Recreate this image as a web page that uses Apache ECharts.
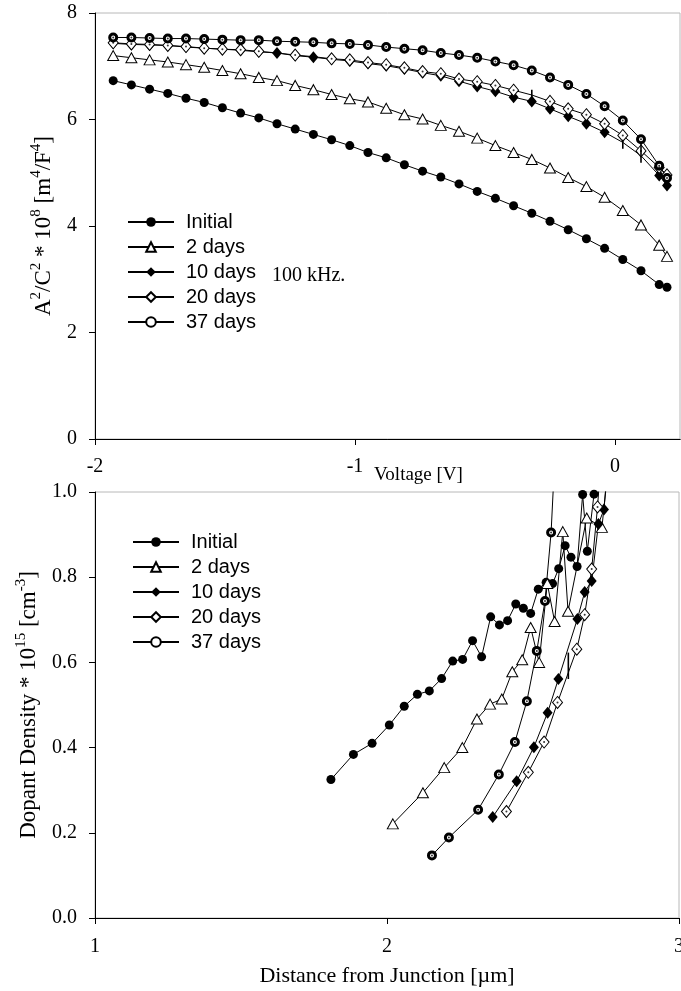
<!DOCTYPE html>
<html>
<head>
<meta charset="utf-8">
<script src="https://cdn.jsdelivr.net/npm/echarts@6/dist/echarts.min.js"></script>
<style>
  html, body { margin: 0; padding: 0; background: #fff; }
  #main { width: 681px; height: 991px; }
</style>
</head>
<body>
<div id="main"></div>
<script>
// top panel: A^2/C^2 vs voltage
var voltage = [-1.93,-1.86,-1.79,-1.72,-1.65,-1.58,-1.51,-1.44,-1.37,-1.30,-1.23,-1.16,-1.09,-1.02,-0.95,-0.88,
               -0.81,-0.74,-0.67,-0.60,-0.53,-0.46,-0.39,-0.32,-0.25,-0.18,-0.11,-0.04,0.03,0.10,0.17,0.20];
var voltageTicks = [-2, -1, 0];
var initialTop = [6.73,6.65,6.57,6.49,6.40,6.32,6.22,6.12,6.03,5.92,5.82,5.72,5.62,5.51,5.38,5.28,
                  5.15,5.03,4.92,4.79,4.65,4.52,4.38,4.24,4.09,3.93,3.76,3.58,3.37,3.16,2.90,2.85];
var days2Top = [7.20,7.16,7.12,7.08,7.03,6.98,6.92,6.86,6.79,6.73,6.64,6.56,6.47,6.39,6.33,6.21,
                6.09,6.01,5.89,5.78,5.65,5.51,5.38,5.25,5.09,4.91,4.74,4.54,4.29,4.02,3.64,3.43];
var days10Top = [7.43,7.41,7.40,7.39,7.36,7.34,7.32,7.30,7.27,7.25,7.20,7.17,7.13,7.10,7.05,7.01,
                 6.95,6.88,6.82,6.72,6.62,6.53,6.42,6.34,6.20,6.06,5.92,5.76,5.57,5.32,4.95,4.76];
var days20Top = [7.44,7.42,7.41,7.39,7.37,7.34,7.32,7.31,7.28,7.25,7.21,7.18,7.14,7.12,7.07,7.03,
                 6.97,6.90,6.86,6.76,6.71,6.64,6.55,6.46,6.34,6.20,6.09,5.92,5.70,5.41,5.10,4.96];
var days37Top = [7.54,7.54,7.53,7.52,7.52,7.51,7.50,7.49,7.49,7.47,7.46,7.45,7.43,7.42,7.40,7.36,
                 7.33,7.30,7.25,7.21,7.16,7.09,7.02,6.92,6.79,6.65,6.48,6.25,5.98,5.63,5.13,4.90];
// points where the original shows a bare vertical stroke instead of a marker
var noMarkTop = { '10 days': [28, 29], '20 days': [9, 11, 23] };
var strokesTop = [[-0.32, 6.56, 6.41], [0.03, 5.62, 5.45], [0.10, 5.56, 5.19]];

// bottom panel: dopant density vs distance
var initialX = [1.808,1.885,1.949,2.008,2.059,2.104,2.145,2.187,2.225,2.259,2.293,2.324,2.355,2.385,2.413,
                2.441,2.467,2.492,2.518,2.545,2.567,2.588,2.610,2.630,2.651,2.670,2.686,2.709,2.715];
var initialY = [0.325,0.384,0.410,0.453,0.497,0.525,0.533,0.562,0.603,0.607,0.651,0.613,0.707,0.688,0.698,
                0.737,0.727,0.715,0.772,0.788,0.785,0.820,0.874,0.847,0.825,0.994,0.861,0.995,1.1];
var days2X = [2.020,2.123,2.196,2.258,2.308,2.353,2.393,2.429,2.463,2.492,2.521,2.549,2.574,2.602,2.620,2.684,2.736,2.764];
var days2Y = [0.221,0.294,0.353,0.400,0.467,0.502,0.514,0.578,0.606,0.682,0.600,0.785,0.696,0.907,0.720,0.939,0.917,1.1];
var days10X = [2.362,2.444,2.503,2.550,2.587,2.652,2.677,2.701,2.724,2.743,2.760];
var days10Y = [0.237,0.321,0.401,0.482,0.561,0.702,0.765,0.791,0.925,0.959,1.1];
var days20X = [2.409,2.484,2.538,2.584,2.650,2.677,2.701,2.721,2.735];
var days20Y = [0.250,0.342,0.413,0.506,0.631,0.712,0.819,0.965,1.1];
var days37X = [2.154,2.212,2.312,2.383,2.438,2.479,2.513,2.541,2.562,2.576];
var days37Y = [0.147,0.189,0.254,0.337,0.413,0.509,0.627,0.744,0.905,1.1];
var strokesBottom = [[2.621, 0.623, 0.561]];

var names = ['Initial', '2 days', '10 days', '20 days', '37 days'];
var serif = 'Liberation Serif', sans = 'Liberation Sans';

var looks = {
  'Initial': { symbol: 'circle', size: 9, item: { color: '#000' } },
  '2 days': { symbol: 'triangle', size: [11, 10], item: { color: '#fff', borderColor: '#000', borderWidth: 1 } },
  '10 days': { symbol: 'diamond', size: [10, 12], item: { color: '#000' } },
  '20 days': { symbol: 'diamond', size: [10, 12], item: { color: '#fff', borderColor: '#000', borderWidth: 1 } },
  '37 days': { symbol: 'circle', size: 7, item: { color: '#fff', borderColor: '#000', borderWidth: 3 } }
};

function zip(xs, ys) {
  return xs.map(function(x, i) { return [x, ys[i]]; });
}

function lineSeries(name, pts, g, hidden) {
  var lk = looks[name];
  return {
    name: name, type: 'line', xAxisIndex: g, yAxisIndex: g,
    symbol: lk.symbol, symbolSize: lk.size, itemStyle: lk.item,
    lineStyle: { color: '#000', width: 1 },
    emphasis: { disabled: true },
    data: pts.map(function(p, i) {
      return (hidden && hidden.indexOf(i) >= 0) ? { value: p, symbol: 'none' } : p;
    })
  };
}

function dotSeries(pts, g, hidden, ymax) {
  return {
    type: 'scatter', xAxisIndex: g, yAxisIndex: g, symbol: 'circle', symbolSize: 2,
    itemStyle: { color: '#000' }, emphasis: { disabled: true }, z: 5,
    data: pts.filter(function(p, i) { return !(hidden && hidden.indexOf(i) >= 0) && p[1] <= ymax; })
  };
}

function strokeSeries(rows, g) {
  return {
    type: 'custom', xAxisIndex: g, yAxisIndex: g, z: 6,
    renderItem: function(params, api) {
      var a = api.coord([api.value(0), api.value(1)]);
      var b = api.coord([api.value(0), api.value(2)]);
      return { type: 'line', shape: { x1: a[0], y1: a[1], x2: b[0], y2: b[1] },
               style: { stroke: '#000', lineWidth: 1.6 } };
    },
    encode: { x: 0, y: [1, 2] },
    data: rows
  };
}

var topSets = [initialTop, days2Top, days10Top, days20Top, days37Top].map(function(ys) { return zip(voltage, ys); });
var botSets = [zip(initialX, initialY), zip(days2X, days2Y), zip(days10X, days10Y), zip(days20X, days20Y), zip(days37X, days37Y)];

var series = [];
names.forEach(function(n, k) { series.push(lineSeries(n, topSets[k], 0, noMarkTop[n])); });
names.forEach(function(n, k) { series.push(lineSeries(n, botSets[k], 1, null)); });
series.push(dotSeries(topSets[3], 0, noMarkTop['20 days'], 8));
series.push(dotSeries(topSets[4], 0, null, 8));
series.push(dotSeries(botSets[3], 1, null, 1));
series.push(dotSeries(botSets[4], 1, null, 1));
series.push(strokeSeries(strokesTop, 0));
series.push(strokeSeries(strokesBottom, 1));

var supRich = {
  n: { fontFamily: serif, fontSize: 23, color: '#000', lineHeight: 26, verticalAlign: 'bottom' },
  s: { fontFamily: serif, fontSize: 15, color: '#000', lineHeight: 13, verticalAlign: 'top' }
};

function valueAxis(g, extra) {
  var ax = {
    type: 'value', gridIndex: g, nameMoveOverlap: false,
    axisLine: { show: true, onZero: false, lineStyle: { color: '#000', width: 1 } },
    axisTick: { show: true, inside: false, length: 6, lineStyle: { color: '#000' } },
    axisLabel: { color: '#000', fontFamily: serif, fontSize: 20, margin: 18 },
    splitLine: { show: false }
  };
  for (var k in extra) ax[k] = extra[k];
  return ax;
}

function frameAxis(g) {
  return { type: 'value', gridIndex: g, position: 'top', min: 0, max: 1,
           axisLine: { show: true, lineStyle: { color: '#000' } },
           axisTick: { show: false }, axisLabel: { show: false }, splitLine: { show: false } };
}

function legendAt(left, top) {
  return {
    data: names, orient: 'vertical', left: left, top: top, padding: 0,
    itemWidth: 46, itemHeight: 12, itemGap: 5, selectedMode: false,
    textStyle: { fontFamily: sans, fontSize: 20, color: '#000', lineHeight: 20, padding: [0, 0, 0, 7] }
  };
}

var chart = echarts.init(document.getElementById('main'));
chart.setOption({
  animation: false,
  backgroundColor: '#fff',
  grid: [
    { left: 95, top: 13, width: 585, height: 426, show: true, borderColor: '#b8b8b8', borderWidth: 1,
      containLabel: false, outerBoundsMode: 'none' },
    { left: 95, top: 492, width: 584, height: 426, show: true, borderColor: '#b8b8b8', borderWidth: 1,
      containLabel: false, outerBoundsMode: 'none' }
  ],
  legend: [legendAt(127, 212), legendAt(132, 532)],
  xAxis: [
    valueAxis(0, { min: -2, max: 0.25, interval: 1,
                   axisTick: { show: true, length: 6, lineStyle: { color: '#000' }, customValues: voltageTicks },
                   axisLabel: { color: '#000', fontFamily: serif, fontSize: 20, margin: 18, customValues: voltageTicks },
                   name: 'Voltage [V]', nameLocation: 'middle', nameGap: 27,
                   nameTextStyle: { fontFamily: serif, fontSize: 19, color: '#000', padding: [0, 0, 0, 62] } }),
    valueAxis(1, { min: 1, max: 3, interval: 1, name: 'Distance from Junction [\u00b5m]', nameLocation: 'middle', nameGap: 47,
                   axisLabel: { color: '#000', fontFamily: serif, fontSize: 20, margin: 19, alignMaxLabel: 'center' },
                   nameTextStyle: { fontFamily: serif, fontSize: 22, color: '#000' } }),
    frameAxis(0),
    frameAxis(1)
  ],
  yAxis: [
    valueAxis(0, { min: 0, max: 8, interval: 2, nameLocation: 'middle', nameGap: 40,
                   name: '{n|A}{s|2}{n|/C}{s|2}{n| * 10}{s|8}{n| [m}{s|4}{n|/F}{s|4}{n|]}',
                   nameTextStyle: { rich: supRich } }),
    valueAxis(1, { min: 0, max: 1, interval: 0.2, nameLocation: 'middle', nameGap: 55,
                   axisLabel: { color: '#000', fontFamily: serif, fontSize: 20, margin: 18,
                                formatter: function(v) { return v.toFixed(1); } },
                   name: '{n|Dopant Density * 10}{s|15}{n| [cm}{s|-3}{n|]}',
                   nameTextStyle: { rich: supRich } })
  ],
  graphic: [
    { type: 'text', left: 272, top: 266, style: { text: '100 kHz.', font: '20px "Liberation Serif"', fill: '#000' } }
  ],
  series: series
});
</script>
</body>
</html>
